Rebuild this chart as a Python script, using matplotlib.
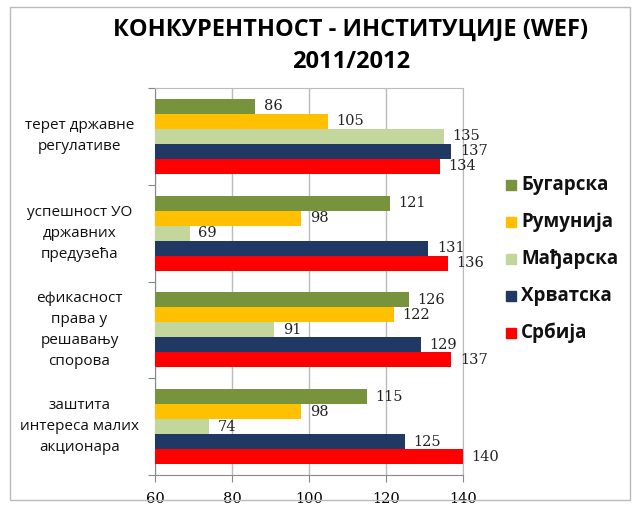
import matplotlib
matplotlib.use("Agg")
import matplotlib.pyplot as plt
import numpy as np
from matplotlib.patches import Rectangle

categories = ["терет државне\nрегулативе", "успешност УО\nдржавних\nпредузећа",
              "ефикасност\nправа у\nрешавању\nспорова", "заштита\nинтереса малих\nакционара"]
series = ["Бугарска", "Румунија", "Мађарска", "Хрватска", "Србија"]
values = {
    "Бугарска": [86, 121, 126, 115],
    "Румунија": [105, 98, 122, 98],
    "Мађарска": [135, 69, 91, 74],
    "Хрватска": [137, 131, 129, 125],
    "Србија":   [134, 136, 137, 140],
}
colors = ["#77933C", "#FFC000", "#C3D69B", "#1F3864", "#FF0000"]
xticks = [60, 80, 100, 120, 140]

fig = plt.figure(figsize=(6.4, 5.07), dpi=100)
ax = fig.add_axes([155/640, 1-475/507, (463-155)/640, (475-88)/507])

bh = 0.155
n = len(series)
for j, s in enumerate(series):
    ys = np.arange(len(categories)) + (j - (n-1)/2) * bh
    ax.barh(ys, np.array(values[s]) - 60, left=60, height=bh, color=colors[j], zorder=3)
    for y, v in zip(ys, values[s]):
        ax.text(v + 2.2, y, str(v), va="center", ha="left", fontsize=10.5,
                family="DejaVu Serif", color="#222222", zorder=4)

ax.set_xlim(60, 140)
ax.set_ylim(len(categories) - 0.5, -0.5)
ax.set_xticks(xticks)
ax.set_xticklabels([str(t) for t in xticks], family="DejaVu Serif", fontsize=10.5)
ax.xaxis.grid(True, color="#BBBBBB", linewidth=1, zorder=0)
ax.set_yticks(np.arange(-0.5, len(categories) + 0.5, 1))
ax.set_yticklabels([])
ax.tick_params(axis="y", length=5, color="#888888")
ax.tick_params(axis="x", length=5, color="#888888", pad=7)
for sp in ["top", "right"]:
    ax.spines[sp].set_color("#BBBBBB")
ax.spines["left"].set_color("#888888")
ax.spines["bottom"].set_color("#888888")

for i, c in enumerate(categories):
    ax.text(-0.245, i, c, transform=ax.get_yaxis_transform(), ha="center", va="center",
            fontsize=11, family="Open Sans", linespacing=1.55, color="#111111")

fig.text(351/640, 1-30/507, "КОНКУРЕНТНОСТ - ИНСТИТУЦИЈЕ (WEF)", ha="center", va="center",
         fontsize=17, fontweight="bold", family="Open Sans")
fig.text(351/640, 1-62/507, "2011/2012", ha="center", va="center",
         fontsize=17, fontweight="bold", family="Open Sans")

# legend
for j, s in enumerate(series):
    y = 1 - (185 + j*37) / 507
    fig.patches.append(Rectangle((506/640, y - 5/507), 10/640, 10/507,
                                 transform=fig.transFigure, color=colors[j]))
    fig.text(521/640, y, s, ha="left", va="center", fontsize=13.5, fontweight="bold",
             family="Open Sans", color="#111111")

fig.patches.append(Rectangle((10/640, 7/507), 620/640, 493/507, transform=fig.transFigure,
                             fill=False, edgecolor="#BBBBBB", linewidth=1))

fig.savefig("out.png", dpi=100)
